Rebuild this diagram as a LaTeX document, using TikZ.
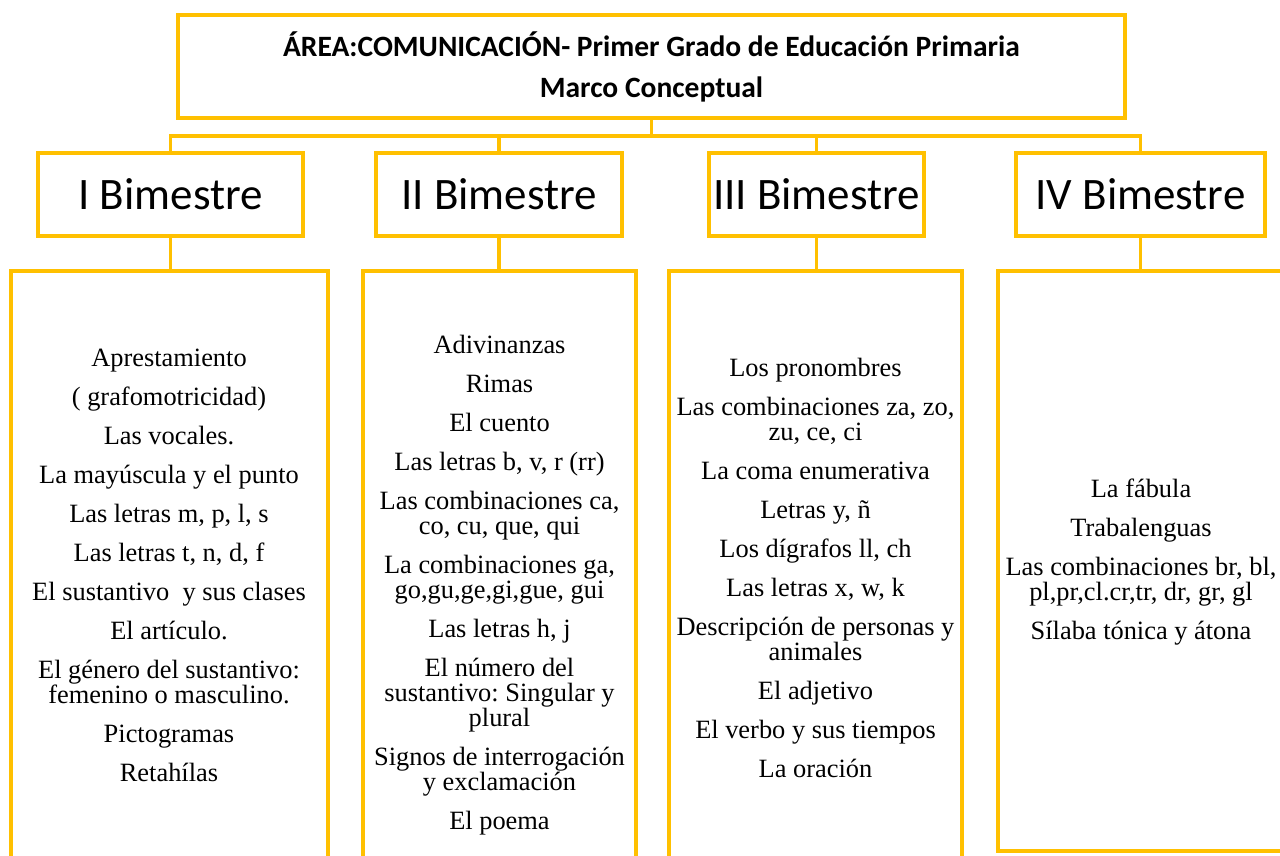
\documentclass[tikz,border=0pt]{standalone}
\usepackage{fontspec}
\setmainfont{Liberation Serif}
\newfontfamily\calfont{Carlito}
\definecolor{gold}{HTML}{FFC000}
\frenchspacing
\tikzset{
  frame/.style={draw=gold, line width=4pt, inner sep=0pt},
  link/.style={draw=gold, line width=3.5pt},
  titlebox/.style={frame, minimum width=947pt, minimum height=103pt, align=center,
    font=\calfont\bfseries\fontsize{29.5}{41}\selectfont},
  bimbox/.style={frame, minimum height=83pt, font=\calfont\fontsize{45}{50}\selectfont},
  listbox/.style={frame},
  items/.style={align=center, inner sep=0pt, font=\fontsize{26.4}{25}\selectfont}
}
\begin{document}
\begin{tikzpicture}[x=1pt,y=-1pt]
\useasboundingbox (0,0) rectangle (1280,856);
\clip (0,0) rectangle (1280,856);
% title
\node[titlebox] (top) at (651.5,66.5) {ÁREA:COMUNICACIÓN- Primer Grado de Educación Primaria\\Marco Conceptual};
% bimestres
\node[bimbox, minimum width=265pt] (b1) at (170.5,194.5) {I Bimestre};
\node[bimbox, minimum width=246pt] (b2) at (499,194.5) {II Bimestre};
\node[bimbox, minimum width=215pt] (b3) at (816.5,194.5) {III Bimestre};
\node[bimbox, minimum width=249pt] (b4) at (1140.5,194.5) {IV Bimestre};
% content boxes
\node[listbox, minimum width=317.5pt, minimum height=609pt] (c1) at (169.25,575.5) {};
\node[listbox, minimum width=273pt, minimum height=609pt] (c2) at (499.5,575.5) {};
\node[listbox, minimum width=293pt, minimum height=609pt] (c3) at (815.5,575.5) {};
\node[listbox, minimum width=292pt, minimum height=580pt] (c4) at (1144,561) {};
% connectors
\draw[link] (top.south) -- ++(0,16) coordinate (hub);
\draw[link] (b1.north) |- (hub) -| (b4.north);
\draw[link] (b2.north) -- (b2.north |- hub);
\draw[link] (b3.north) -- (b3.north |- hub);
\draw[link] (b1.south) -- (b1.south |- c1.north);
\draw[link] (b2.south) -- (b2.south |- c2.north);
\draw[link] (b3.south) -- (b3.south |- c3.north);
\draw[link] (b4.south) -- (b4.south |- c4.north);
% lists
\node[items] (t1) at (169,565.5) {Aprestamiento\\[14pt]( grafomotricidad)\\[14pt]Las vocales.\\[14pt]La mayúscula y el punto\\[14pt]Las letras m, p, l, s\\[14pt]Las letras t, n, d, f\\[14pt]El sustantivo\ \ y sus clases\\[14pt]El artículo.\\[14pt]El género del sustantivo:\\femenino o masculino.\\[14pt]Pictogramas\\[14pt]Retahílas};
\node[items] (t2) at (499.5,585) {Adivinanzas\\[14pt]Rimas\\[14pt]El cuento\\[14pt]Las letras b, v, r (rr)\\[14pt]Las combinaciones ca,\\co, cu, que, qui\\[14pt]La combinaciones ga,\\go,gu,ge,gi,gue, gui\\[14pt]Las letras h, j\\[14pt]El número del\\sustantivo: Singular y\\plural\\[14pt]Signos de interrogación\\y exclamación\\[14pt]El poema};
\node[items] (t3) at (815.5,568) {Los pronombres\\[14pt]Las combinaciones za, zo,\\zu, ce, ci\\[14pt]La coma enumerativa\\[14pt]Letras y, ñ\\[14pt]Los dígrafos ll, ch\\[14pt]Las letras x, w, k\\[14pt]Descripción de personas y\\animales\\[14pt]El adjetivo\\[14pt]El verbo y sus tiempos\\[14pt]La oración};
\node[items] (t4) at (1141,562.5) {La fábula\\[14pt]Trabalenguas\\[14pt]Las combinaciones br, bl,\\pl,pr,cl.cr,tr, dr, gr, gl\\[14pt]Sílaba tónica y átona};
\end{tikzpicture}
\end{document}
